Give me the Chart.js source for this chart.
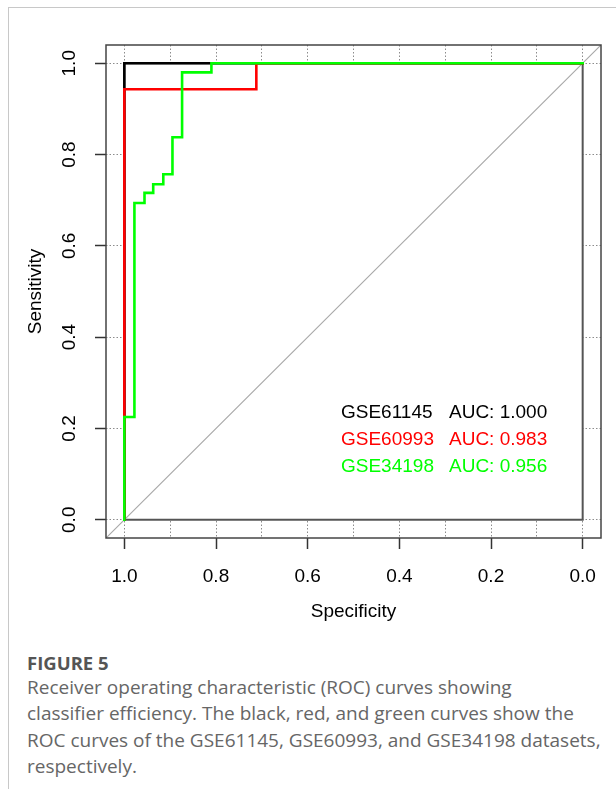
<!DOCTYPE html>
<html>
<head>
<meta charset="utf-8">
<script src="https://cdn.jsdelivr.net/npm/chart.js@4.4.0/dist/chart.umd.min.js"></script>
<style>
  body { margin: 0; background: #fff; width: 616px; height: 789px; overflow: hidden; position: relative; }
  #frame { position: absolute; left: 8px; top: 7px; right: 0; bottom: 0;
           border-top: 1px solid #c8c8c8; border-left: 1px solid #c8c8c8; }
  #roc { position: absolute; left: 0; top: 0; }
  #caption { position: absolute; left: 27px; top: 651px; font-family: "Open Sans", sans-serif;
             white-space: nowrap; }
  #caption .head { font-weight: bold; font-size: 18.5px; color: #555; line-height: 23px; }
  #caption .body { font-size: 19px; color: #666; line-height: 26.3px; }
</style>
</head>
<body>
<div id="frame"></div>
<canvas id="roc" width="616" height="640"></canvas>
<div id="caption">
  <div class="head">FIGURE 5</div>
  <div class="body">Receiver operating characteristic (ROC) curves showing<br>classifier efficiency. The black, red, and green curves show the<br>ROC curves of the GSE61145, GSE60993, and GSE34198 datasets,<br>respectively.</div>
</div>
<script>
// series names and AUC text shown in the legend
const seriesNames = ['GSE61145', 'GSE60993', 'GSE34198'];
const aucLabels = ['AUC: 1.000', 'AUC: 0.983', 'AUC: 0.956'];

// ROC corner points (specificity, sensitivity)
const spec61145 = [1, 1, 0];
const sens61145 = [0, 1, 1];
const spec60993 = [1, 1, 0.712, 0];
const sens60993 = [0, 0.943, 1, 1];
const spec34198 = [1, 1, 0.978, 0.956, 0.937, 0.915, 0.895, 0.874, 0.810, 0];
const sens34198 = [0, 0.225, 0.694, 0.716, 0.735, 0.757, 0.838, 0.980, 1, 1];

// axes
const axisMin = -0.04;
const axisMax = 1.04;
const xGridValues = [0, 0.1, 0.2, 0.3, 0.4, 0.5, 0.6, 0.7, 0.8, 0.9, 1];
const xTickValues = [1, 0.8, 0.6, 0.4, 0.2, 0];
const xTickLabels = ['1.0', '0.8', '0.6', '0.4', '0.2', '0.0'];
const yTickValues = [0, 0.2, 0.4, 0.6, 0.8, 1];
const yTickLabels = ['0.0', '0.2', '0.4', '0.6', '0.8', '1.0'];

const colors = ['#000000', '#ff0000', '#00ff00'];
const FONT = '"Liberation Sans", Arial, sans-serif';

const toPoints = (xs, ys) => xs.map((v, i) => ({ x: v, y: ys[i] }));

function xLabelFor(v) {
  const i = xTickValues.findIndex(t => Math.abs(t - v) < 1e-6);
  return i >= 0 ? xTickLabels[i] : '';
}

const rocFrame = {
  id: 'rocFrame',
  beforeDatasetsDraw(chart) {
    const { ctx, scales: { x, y } } = chart;
    const l = x.getPixelForValue(1), r = x.getPixelForValue(0);
    const t = y.getPixelForValue(1), b = y.getPixelForValue(0);
    ctx.save();
    ctx.fillStyle = '#fff';
    ctx.fillRect(l, t, r - l, b - t);
    ctx.strokeStyle = '#555';
    ctx.lineWidth = 2;
    ctx.strokeRect(l, t, r - l, b - t);
    ctx.restore();
  },
  afterDatasetsDraw(chart) {
    const { ctx, chartArea: a, scales: { y } } = chart;
    ctx.save();
    ctx.strokeStyle = '#444';
    ctx.lineWidth = 1.5;
    ctx.strokeRect(a.left, a.top, a.right - a.left, a.bottom - a.top);

    // y tick labels, rotated like R's las=0
    ctx.fillStyle = '#000';
    ctx.font = '19px ' + FONT;
    ctx.textAlign = 'center';
    ctx.textBaseline = 'middle';
    yTickValues.forEach((v, i) => {
      ctx.save();
      ctx.translate(a.left - 36, y.getPixelForValue(v));
      ctx.rotate(-Math.PI / 2);
      ctx.fillText(yTickLabels[i], 0, 0);
      ctx.restore();
    });

    // legend
    ctx.textAlign = 'left';
    ctx.textBaseline = 'alphabetic';
    seriesNames.forEach((name, i) => {
      const by = 418 + i * 27;
      ctx.fillStyle = colors[i];
      ctx.fillText(name, 341, by);
      ctx.fillText(aucLabels[i], 449, by);
    });
    ctx.restore();
  }
};

new Chart(document.getElementById('roc'), {
  type: 'line',
  data: {
    datasets: [
      { label: seriesNames[2], data: toPoints(spec34198, sens34198), borderColor: colors[2], stepped: 'before' },
      { label: seriesNames[1], data: toPoints(spec60993, sens60993), borderColor: colors[1], stepped: 'before' },
      { label: seriesNames[0], data: toPoints(spec61145, sens61145), borderColor: colors[0], stepped: 'before' },
      { label: 'chance', data: toPoints([axisMax, axisMin], [axisMin, axisMax]),
        borderColor: '#aaaaaa', borderWidth: 1.2 }
    ]
  },
  options: {
    responsive: false,
    animation: false,
    devicePixelRatio: 1,
    layout: { padding: { top: 45, right: 15, left: 0, bottom: 0 } },
    elements: {
      point: { radius: 0 },
      line: { borderWidth: 2.6, tension: 0, borderCapStyle: 'square', borderJoinStyle: 'miter' }
    },
    plugins: { legend: { display: false }, tooltip: { enabled: false } },
    scales: {
      x: {
        type: 'linear',
        reverse: true,
        min: axisMin,
        max: axisMax,
        afterBuildTicks: s => { s.ticks = xGridValues.map(v => ({ value: v })); },
        afterFit: s => { s.height = 102; },
        grid: {
          color: '#8c8c8c',
          lineWidth: 1,
          drawTicks: true,
          tickLength: 11,
          tickWidth: 1.5,
          tickColor: c => (c.tick && xLabelFor(c.tick.value) !== '' ? '#333' : 'rgba(0,0,0,0)'),
          tickBorderDash: []
        },
        border: { display: false, dash: [1.5, 2] },
        ticks: {
          autoSkip: false,
          maxRotation: 0,
          padding: 16,
          color: '#000',
          font: { family: FONT, size: 19 },
          callback: v => xLabelFor(v)
        },
        title: {
          display: true,
          text: 'Specificity',
          color: '#000',
          font: { family: FONT, size: 19 },
          padding: { top: 0, bottom: 17 }
        }
      },
      y: {
        type: 'linear',
        min: axisMin,
        max: axisMax,
        afterBuildTicks: s => { s.ticks = yTickValues.map(v => ({ value: v })); },
        afterFit: s => { s.width = 106; },
        grid: {
          color: '#8c8c8c',
          lineWidth: 1,
          drawTicks: true,
          tickLength: 11,
          tickWidth: 1.5,
          tickColor: '#333',
          tickBorderDash: []
        },
        border: { display: false, dash: [1.5, 2] },
        ticks: { display: false },
        title: {
          display: true,
          text: 'Sensitivity',
          color: '#000',
          font: { family: FONT, size: 19 },
          padding: { top: 24, bottom: 0 }
        }
      }
    }
  },
  plugins: [rocFrame]
});
</script>
</body>
</html>
